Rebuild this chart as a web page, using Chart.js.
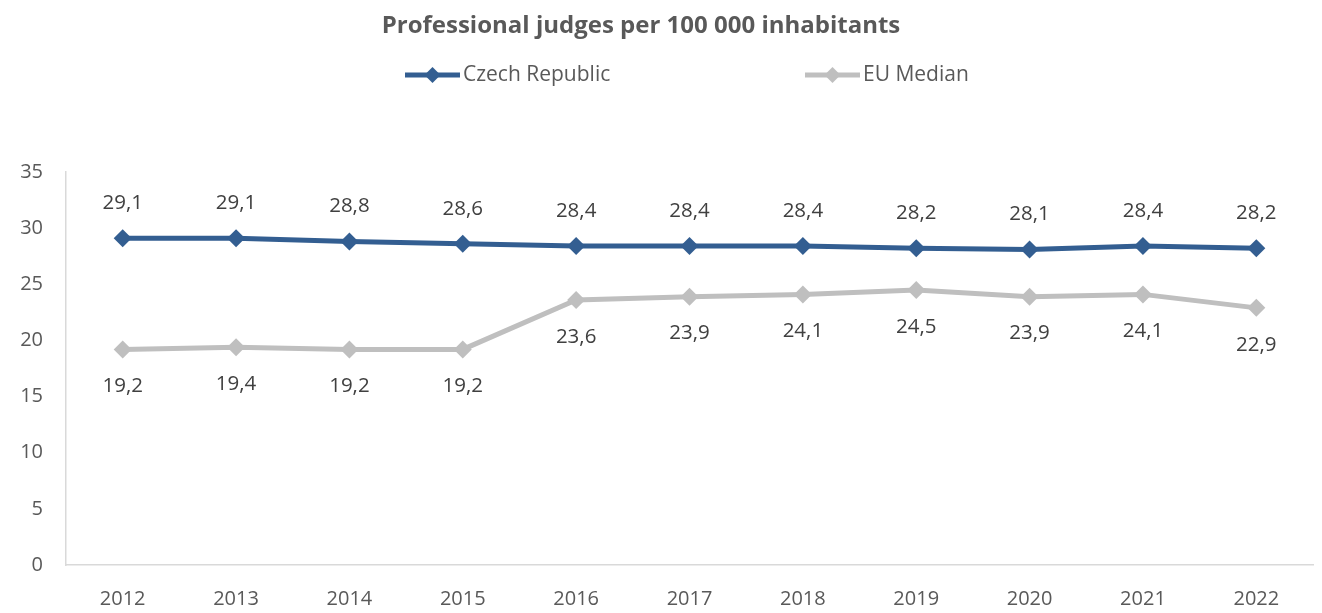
<!DOCTYPE html>
<html>
<head>
<meta charset="utf-8">
<script src="https://cdn.jsdelivr.net/npm/chart.js@4.4.1/dist/chart.umd.min.js"></script>
<style>
  html, body { margin: 0; padding: 0; background: #fff; }
  #wrap { width: 1322px; height: 613px; position: relative; }
</style>
</head>
<body>
<div id="wrap"><canvas id="judges"></canvas></div>
<script>
// data
const years = ['2012','2013','2014','2015','2016','2017','2018','2019','2020','2021','2022'];
const czechValues = [29.1, 29.1, 28.8, 28.6, 28.4, 28.4, 28.4, 28.2, 28.1, 28.4, 28.2];
const euMedianValues = [19.2, 19.4, 19.2, 19.2, 23.6, 23.9, 24.1, 24.5, 23.9, 24.1, 22.9];
const seriesNames = ['Czech Republic', 'EU Median'];
const yTicks = [0, 5, 10, 15, 20, 25, 30, 35];
const chartTitle = 'Professional judges per 100 000 inhabitants';

const blue = '#335e91';
const grey = '#bfbfbf';
const font = "'Open Sans', 'Noto Sans', sans-serif";

// value labels: czech above the point, eu median under it
const labelPlugin = {
  id: 'valueLabels',
  afterDatasetsDraw(chart) {
    const ctx = chart.ctx;
    ctx.save();
    ctx.font = '20.5px ' + font;
    ctx.fillStyle = '#404040';
    ctx.textAlign = 'center';
    ctx.textBaseline = 'middle';
    chart.data.datasets.forEach(function (ds, i) {
      const meta = chart.getDatasetMeta(i);
      const shift = i === 0 ? -35 : 37;
      meta.data.forEach(function (pt, j) {
        ctx.fillText(ds.data[j].toFixed(1).replace('.', ','), pt.x, pt.y + shift);
      });
    });
    ctx.restore();
  }
};

// title + excel style legend (title sits a bit left of centre like the original)
const headerPlugin = {
  id: 'header',
  afterDraw(chart) {
    const ctx = chart.ctx;
    ctx.save();
    ctx.font = 'bold 24px ' + font;
    ctx.fillStyle = '#595959';
    ctx.textAlign = 'center';
    ctx.textBaseline = 'middle';
    ctx.fillText(chartTitle, 641, 26);

    const y = 75;
    let x = 405;
    ctx.font = '21px ' + font;
    ctx.textAlign = 'left';
    chart.data.datasets.forEach(function (ds) {
      ctx.strokeStyle = ds.borderColor;
      ctx.lineWidth = 5;
      ctx.beginPath();
      ctx.moveTo(x, y);
      ctx.lineTo(x + 55, y);
      ctx.stroke();
      ctx.fillStyle = ds.borderColor;
      ctx.beginPath();
      ctx.moveTo(x + 27.5, y - 8);
      ctx.lineTo(x + 35.5, y);
      ctx.lineTo(x + 27.5, y + 8);
      ctx.lineTo(x + 19.5, y);
      ctx.closePath();
      ctx.fill();
      ctx.fillStyle = '#595959';
      ctx.fillText(ds.label, x + 58, y);
      x += 400;
    });
    ctx.restore();
  }
};

const myChart = new Chart(document.getElementById('judges'), {
  type: 'line',
  data: {
    labels: years,
    datasets: [
      {
        label: seriesNames[0],
        data: czechValues,
        borderColor: blue,
        backgroundColor: blue,
        borderWidth: 5,
        pointStyle: 'rectRot',
        pointRadius: 9,
        pointBorderWidth: 0,
        tension: 0
      },
      {
        label: seriesNames[1],
        data: euMedianValues,
        borderColor: grey,
        backgroundColor: grey,
        borderWidth: 5,
        pointStyle: 'rectRot',
        pointRadius: 9,
        pointBorderWidth: 0,
        tension: 0
      }
    ]
  },
  options: {
    responsive: true,
    maintainAspectRatio: false,
    animation: false,
    layout: { padding: { left: 0, right: 3, top: 172, bottom: 0 } },
    plugins: {
      legend: { display: false },
      tooltip: { enabled: false },
      title: { display: false }
    },
    scales: {
      x: {
        offset: true,
        grid: { display: false },
        border: { display: true, color: '#d9d9d9', width: 1.5 },
        ticks: { color: '#595959', font: { family: font, size: 20 }, padding: 14, maxRotation: 0 },
        afterFit: function (scale) { scale.height = 48; }
      },
      y: {
        min: 0,
        max: 35,
        afterBuildTicks: function (scale) {
          scale.ticks = yTicks.map(function (v) { return { value: v }; });
        },
        grid: { display: false },
        border: { display: true, color: '#d9d9d9', width: 1.5 },
        ticks: { color: '#595959', font: { family: font, size: 20 }, padding: 15 },
        afterFit: function (scale) { scale.width = 66; }
      }
    }
  },
  plugins: [labelPlugin, headerPlugin]
});
</script>
</body>
</html>
